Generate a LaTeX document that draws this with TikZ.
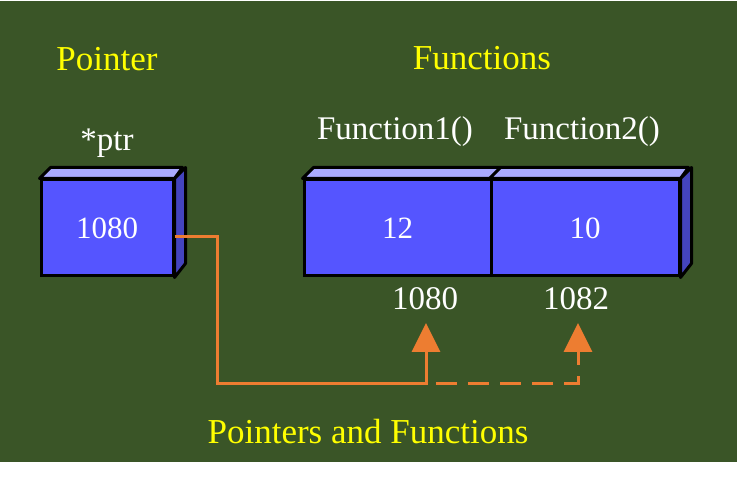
\documentclass[tikz,border=0pt]{standalone}
\usepackage{fontspec}
\setmainfont{Liberation Serif}
\usetikzlibrary{arrows.meta}
\definecolor{board}{RGB}{58,85,39}
\definecolor{facefront}{RGB}{85,85,255}
\definecolor{facetop}{RGB}{170,170,255}
\definecolor{faceside}{RGB}{68,68,190}
\definecolor{wire}{RGB}{237,125,49}
\definecolor{headline}{RGB}{255,255,0}
\begin{document}
\begin{tikzpicture}[x=1pt,y=-1pt,
    cell/.style={draw=black,line width=3pt,fill=facefront,text=white,
      minimum height=96pt,inner sep=0pt,font=\fontsize{31}{36}\selectfont},
    face/.style={draw=black,line width=3pt,line join=round},
    title/.style={text=headline,anchor=base,font=\fontsize{35}{42}\selectfont},
    caption/.style={text=white,anchor=base,font=\fontsize{33}{40}\selectfont},
    link/.style={wire,line width=3pt,-{Triangle[length=29pt,width=28pt]}}]
    % Board
    \useasboundingbox (0,0) rectangle (737,481);
    \fill[board] (0,1) rectangle (737,462);

    % Headings
    \node[title] (ptrhead) at (107,71) {Pointer};
    \node[title] (funhead) at (482,70) {Functions};
    \node[title] (bottom) at (368,443) {Pointers and Functions};

    % Pointer box
    \node[caption] (ptrname) at (107,151) {*ptr};
    \node[cell,minimum width=132pt] (ptr) at (107,228) {1080};
    \draw[face,fill=facetop]
      (ptr.north west) -- ++(11,-11) -- ++(132,0) -- (ptr.north east) -- cycle;
    \draw[face,fill=faceside]
      (ptr.north east) -- ++(11,-11) -- ++(0,96) -- (ptr.south east) -- cycle;

    % Function boxes
    \node[caption] (f1name) at (395,140) {Function1()};
    \node[caption] (f2name) at (582,140) {Function2()};
    \node[cell,minimum width=187pt] (f1) at (397.5,228) {12};
    \node[cell,minimum width=188pt] (f2) at (585,228) {10};
    \draw[face,fill=facetop]
      (f1.north west) -- ++(11,-11) -- ++(187,0) -- (f1.north east) -- cycle;
    \draw[face,fill=facetop]
      (f2.north west) -- ++(11,-11) -- ++(188,0) -- (f2.north east) -- cycle;
    \draw[face,fill=faceside]
      (f2.north east) -- ++(11,-11) -- ++(0,96) -- (f2.south east) -- cycle;

    % Addresses
    \node[caption] (addr1) at (425,310) {1080};
    \node[caption] (addr2) at (576,310) {1082};

    % Pointer links
    \coordinate (turn) at (217,383);
    \coordinate (fork) at (426,383);
    \coordinate (corner) at (578,383);
    \coordinate (tip1) at (426,323);
    \coordinate (tip2) at (578,323);
    \draw[link,dash pattern=on 21pt off 11pt,dash phase=-10pt] (fork) -- (corner) -- (tip2);
    \draw[link] ([yshift=-9pt]ptr.east) -| (turn) -- (fork) -- (tip1);
\end{tikzpicture}
\end{document}
